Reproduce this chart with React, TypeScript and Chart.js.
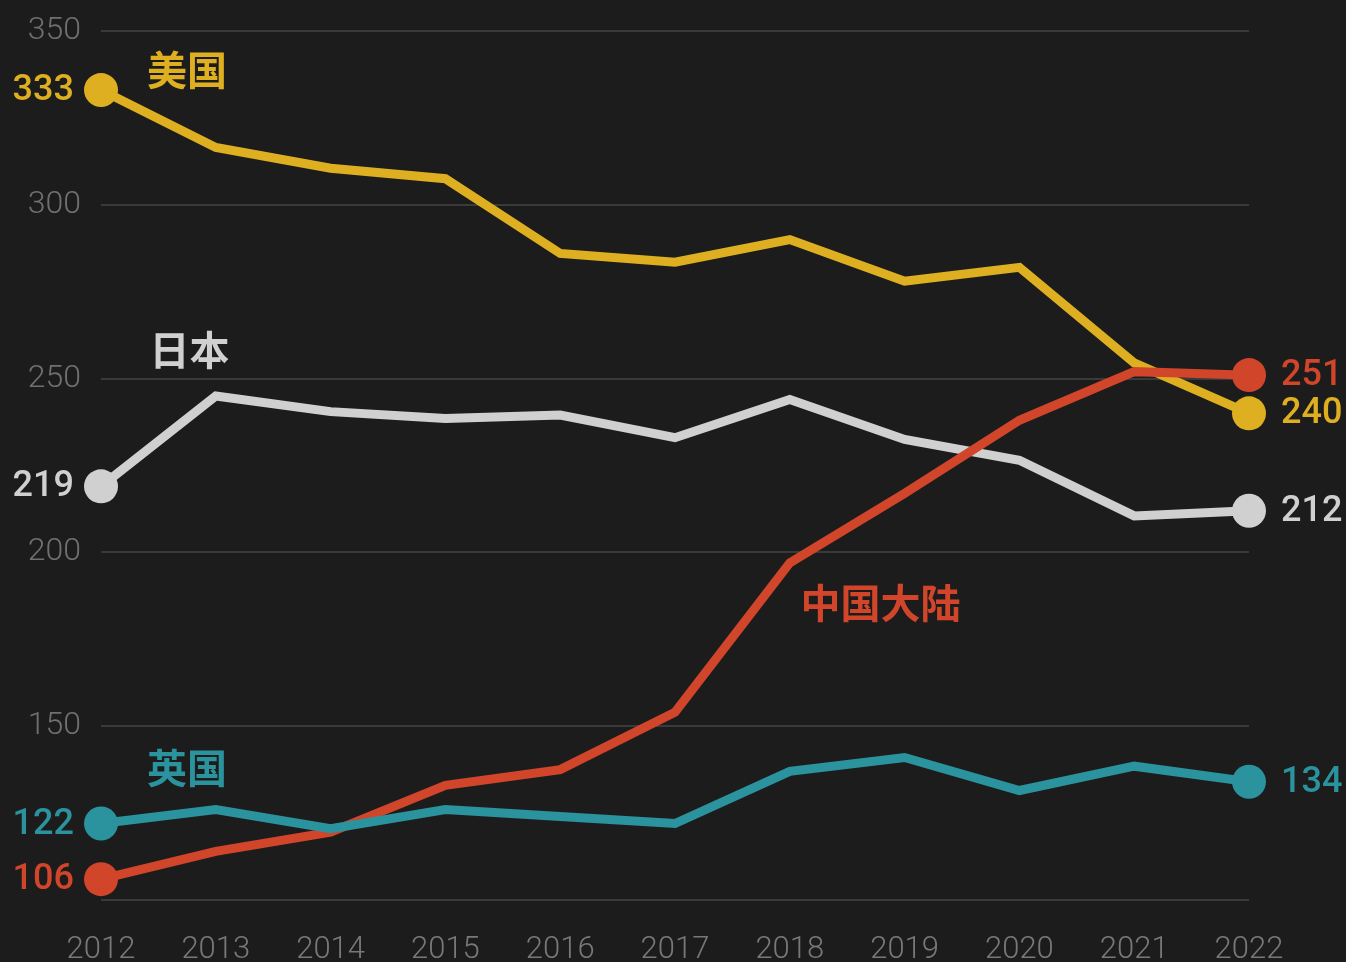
import React, { useEffect, useRef } from 'react';
import { Chart, registerables } from 'chart.js';

Chart.register(...registerables);

// ---- data ----
const years = ['2012', '2013', '2014', '2015', '2016', '2017', '2018', '2019', '2020', '2021', '2022'];
const usValues = [333, 316.5, 310.5, 307.5, 286, 283.5, 290, 278, 282, 254.5, 240];
const japanValues = [219, 245, 240.5, 238.5, 239.5, 233, 244, 232.5, 226.5, 210.5, 212];
const chinaValues = [106, 114, 119.5, 133, 137.5, 154, 197, 217, 238, 252, 251];
const ukValues = [122, 126, 120.5, 126, 124, 122, 137, 141, 131.5, 138.5, 134];
const seriesNames = ['英国', '中国大陆', '美国', '日本'];
const yTickValues = [100, 150, 200, 250, 300, 350];

// ---- styling ----
const BG = '#1c1c1c';
const colors = ['#2a939d', '#d1452a', '#deb021', '#d0d0d0'];
const seriesValues = [ukValues, chinaValues, usValues, japanValues];
// name label anchors (fractional category index, value)
const nameAnchors = [
  [0.75, 138],
  [6.79, 185.4],
  [0.75, 338.8],
  [0.77, 258.2],
];

const endRadius = (n: number) => Array.from({ length: n }, (_, i) => (i === 0 || i === n - 1 ? 17 : 0));

const labelPlugin = {
  id: 'labelPlugin',
  afterDatasetsDraw(chart: any) {
    const ctx = chart.ctx;
    const xs = chart.scales.x;
    const ys = chart.scales.y;
    ctx.save();
    chart.data.datasets.forEach((ds: any, di: number) => {
      const data = ds.data as number[];
      const n = data.length;
      const color = colors[di];
      ctx.fillStyle = color;
      ctx.textBaseline = 'middle';
      ctx.font = '500 36px Roboto, "Noto Sans", sans-serif';
      ctx.textAlign = 'right';
      ctx.fillText(String(data[0]), xs.getPixelForValue(0) - 27, ys.getPixelForValue(data[0]) + 1);
      ctx.textAlign = 'left';
      ctx.fillText(String(data[n - 1]), xs.getPixelForValue(n - 1) + 32, ys.getPixelForValue(data[n - 1]) + 1);
      const [fx, fy] = nameAnchors[di];
      const x0 = xs.getPixelForValue(0);
      const x1 = xs.getPixelForValue(1);
      const px = x0 + (x1 - x0) * fx;
      ctx.textAlign = 'center';
      ctx.font = 'bold 40px "Noto Sans CJK SC", sans-serif';
      ctx.fillText(seriesNames[di], px, ys.getPixelForValue(fy));
    });
    ctx.restore();
  },
};

export default function App() {
  const ref = useRef<HTMLCanvasElement | null>(null);
  useEffect(() => {
    if (!ref.current) return;
    const chart = new Chart(ref.current, {
      type: 'line',
      data: {
        labels: years,
        datasets: seriesValues.map((vals, i) => ({
          label: seriesNames[i],
          data: vals,
          borderColor: colors[i],
          backgroundColor: colors[i],
          borderWidth: 9,
          pointRadius: endRadius(vals.length),
          pointHoverRadius: endRadius(vals.length),
          pointBorderWidth: 0,
          pointBackgroundColor: colors[i],
          tension: 0,
          borderJoinStyle: 'miter' as const,
          borderCapStyle: 'butt' as const,
        })),
      },
      options: {
        responsive: false,
        animation: false,
        layout: { padding: { left: 0, right: 97, top: 31, bottom: 0 } },
        plugins: {
          legend: { display: false },
          tooltip: { enabled: false },
        },
        scales: {
          x: {
            type: 'category',
            offset: false,
            grid: { display: false, drawTicks: false },
            border: { display: false },
            ticks: {
              color: '#787878',
              font: { family: 'Roboto', size: 31, weight: 300 as any },
              padding: 32,
              maxRotation: 0,
              autoSkip: false,
            },
            afterFit: (s: any) => {
              s.height = 62;
              s.paddingLeft = 0;
              s.paddingRight = 0;
            },
          },
          y: {
            min: 100,
            max: 350,
            afterBuildTicks: (s: any) => {
              s.ticks = yTickValues.map((v) => ({ value: v }));
            },
            grid: { color: '#3a3a3a', lineWidth: 2, drawTicks: false },
            border: { display: false },
            ticks: {
              color: '#707070',
              font: { family: 'Roboto', size: 32, weight: 300 as any },
              padding: 20,
              callback: (v: any) => (v === 100 ? '' : String(v)),
            },
            afterFit: (s: any) => {
              s.width = 101;
              s.paddingTop = 0;
              s.paddingBottom = 0;
            },
          },
        },
      },
      plugins: [labelPlugin],
    });
    return () => chart.destroy();
  }, []);
  return (
    <div style={{ position: 'fixed', left: 0, top: 0, width: 1346, height: 962, background: BG }}>
      <canvas ref={ref} width={1346} height={962} style={{ width: 1346, height: 962, display: 'block' }} />
    </div>
  );
}
